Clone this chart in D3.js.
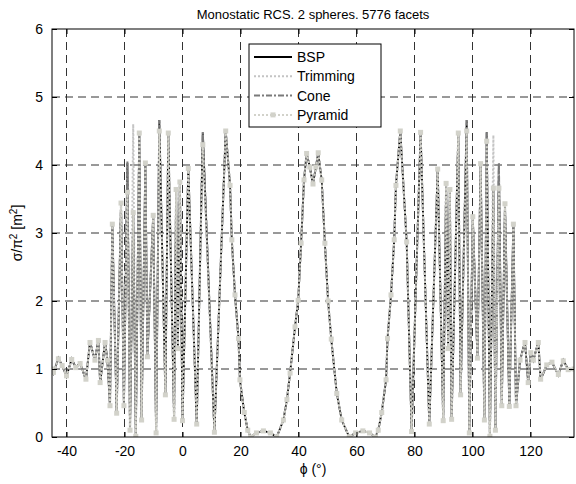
<!DOCTYPE html>
<html>
<head>
<meta charset="utf-8">
<script src="https://cdn.jsdelivr.net/npm/d3@7"></script>
<style>
  body { margin: 0; background: #fff; }
  text { font-family: "Liberation Sans", Arial, sans-serif; }
</style>
</head>
<body>
<script>
 var phi = [
   -45, -44.5, -42.8, -41.5, -40, -38.2, -36.8, -35.3, -33.3, -31.9,
   -30.2, -29, -28.4, -26.7, -25.9, -25, -24.2, -22.7, -21.2, -20.2,
   -19, -18.1, -17, -16.1, -14.9, -14.1, -12.8, -12.1, -10.1, -9.1,
   -8, -5.9, -4.9, -2.9, -2.2, -1.6, -0.9, 0, 2, 4.9,
   7, 11, 14.9, 16.4, 17, 18.1, 19.3, 19.8, 21.3, 22.5,
   23.5, 25.5, 27.9, 30.3, 32.5, 34.8, 36, 37.1, 38.8, 39.9,
   40.9, 41.9, 42.8, 43.9, 45, 46, 46.8, 48, 49.1, 50.2,
   51.3, 53.2, 54.9, 57.5, 59.7, 62.2, 64.5, 66.5, 67.5, 68.7,
   70.2, 70.7, 71.9, 73, 73.6, 75.1, 77.3, 79, 82.1, 85.1,
   88, 89.9, 90.9, 91.6, 92.2, 92.8, 95.1, 95.9, 98, 98.9,
   100.1, 101.7, 102.8, 104.1, 104.9, 106, 107.2, 107.9, 109.1, 110.1,
   111.2, 112.7, 114.1, 115, 116.4, 118.1, 119.2, 120.1, 121, 122.7,
   123.5, 125.6, 127.4, 129.6, 131.3, 133, 135];

 var bsp = [
   1.00, 0.94, 1.16, 1.05, 0.89, 1.15, 1.02, 1.09, 0.84, 1.40,
   1.13, 1.43, 0.79, 1.40, 1.13, 0.46, 3.13, 0.35, 3.44, 0.46,
   4.03, 0.10, 3.30, 0.01, 4.47, 0.25, 4.03, 1.18, 3.26, 0.06,
   4.66, 0.62, 4.47, 0.26, 3.64, 1.30, 3.75, 0.24, 3.95, 0.19,
   4.48, 0.07, 4.50, 3.70, 2.90, 2.09, 1.45, 0.84, 0.36, 0.10,
   0.00, 0.06, 0.09, 0.06, 0.00, 0.25, 0.55, 0.94, 1.62, 2.01,
   2.85, 3.78, 4.17, 3.97, 3.72, 3.97, 4.18, 3.78, 2.85, 2.00,
   1.44, 0.64, 0.25, 0.00, 0.06, 0.09, 0.06, 0.00, 0.10, 0.36,
   0.84, 1.45, 2.09, 2.90, 3.70, 4.50, 2.87, 0.08, 4.48, 0.19,
   3.94, 0.24, 3.73, 1.30, 3.64, 0.26, 4.47, 0.62, 4.66, 0.06,
   3.24, 1.16, 4.02, 0.25, 4.48, 0.01, 3.66, 0.10, 4.03, 0.46,
   3.43, 0.45, 3.13, 0.46, 1.13, 1.40, 0.79, 1.25, 1.13, 1.40,
   0.84, 1.06, 1.10, 0.91, 1.13, 0.99, 1.00];

 var trimming = [
   1.00, 0.96, 1.14, 1.05, 0.91, 1.13, 1.02, 1.07, 0.86, 1.38,
   1.13, 1.41, 0.81, 1.38, 1.13, 0.46, 3.13, 0.35, 3.44, 0.46,
   4.03, 0.10, 4.60, 0.01, 4.47, 0.25, 4.03, 1.18, 3.26, 0.06,
   4.66, 0.62, 4.47, 0.26, 3.64, 1.30, 3.75, 0.24, 3.95, 0.19,
   4.48, 0.07, 4.50, 3.70, 2.90, 2.09, 1.45, 0.84, 0.36, 0.10,
   0.00, 0.06, 0.09, 0.06, 0.00, 0.25, 0.55, 0.94, 1.62, 2.01,
   2.85, 3.78, 4.17, 3.97, 3.72, 3.97, 4.18, 3.78, 2.85, 2.00,
   1.44, 0.64, 0.25, 0.00, 0.06, 0.09, 0.06, 0.00, 0.10, 0.36,
   0.84, 1.45, 2.09, 2.90, 3.70, 4.50, 2.87, 0.08, 4.48, 0.19,
   3.94, 0.24, 3.73, 1.30, 3.64, 0.26, 4.47, 0.62, 4.66, 0.06,
   3.24, 1.16, 4.02, 0.25, 4.48, 0.01, 4.44, 0.10, 4.03, 0.46,
   3.43, 0.45, 3.13, 0.46, 1.13, 1.38, 0.81, 1.23, 1.13, 1.38,
   0.86, 1.06, 1.10, 0.93, 1.11, 0.99, 1.00];

 var cone = [
   1.00, 0.94, 1.16, 1.05, 0.89, 1.15, 1.02, 1.09, 0.84, 1.40,
   1.13, 1.43, 0.79, 1.40, 1.13, 0.46, 3.13, 0.35, 3.44, 0.46,
   4.05, 0.10, 3.30, 0.01, 4.47, 0.25, 4.03, 1.18, 3.26, 0.06,
   4.66, 0.62, 4.47, 0.26, 3.64, 1.30, 3.75, 0.24, 3.95, 0.19,
   4.48, 0.07, 4.50, 3.70, 2.90, 2.09, 1.45, 0.84, 0.36, 0.10,
   0.00, 0.06, 0.09, 0.06, 0.00, 0.25, 0.55, 0.94, 1.62, 2.01,
   2.85, 3.78, 4.17, 3.97, 3.72, 3.97, 4.18, 3.78, 2.85, 2.00,
   1.44, 0.64, 0.25, 0.00, 0.06, 0.09, 0.06, 0.00, 0.10, 0.36,
   0.84, 1.45, 2.09, 2.90, 3.70, 4.50, 2.87, 0.08, 4.48, 0.19,
   3.94, 0.24, 3.73, 1.30, 3.64, 0.26, 4.47, 0.62, 4.66, 0.06,
   3.24, 1.16, 4.02, 0.25, 4.48, 0.01, 3.66, 0.10, 4.03, 0.46,
   3.43, 0.45, 3.13, 0.46, 1.13, 1.40, 0.79, 1.25, 1.13, 1.40,
   0.84, 1.06, 1.10, 0.91, 1.13, 0.99, 1.00];

 var pyramid = [
   1.00, 0.95, 1.15, 1.05, 0.90, 1.14, 1.02, 1.08, 0.85, 1.39,
   1.13, 1.42, 0.80, 1.39, 1.13, 0.46, 3.13, 0.35, 3.44, 0.46,
   3.60, 0.10, 3.30, 0.01, 4.47, 0.25, 4.03, 1.18, 3.26, 0.06,
   4.50, 0.62, 4.47, 0.26, 3.64, 1.30, 3.75, 0.24, 3.95, 0.19,
   4.30, 0.07, 4.50, 3.70, 2.90, 2.09, 1.45, 0.84, 0.36, 0.10,
   0.00, 0.06, 0.09, 0.06, 0.00, 0.25, 0.55, 0.94, 1.62, 2.01,
   2.85, 3.78, 4.17, 3.97, 3.72, 3.97, 4.18, 3.78, 2.85, 2.00,
   1.44, 0.64, 0.25, 0.00, 0.06, 0.09, 0.06, 0.00, 0.10, 0.36,
   0.84, 1.45, 2.09, 2.90, 3.70, 4.50, 2.87, 0.08, 4.48, 0.19,
   3.94, 0.24, 3.73, 1.30, 3.64, 0.26, 4.47, 0.62, 4.50, 0.06,
   3.24, 1.16, 4.02, 0.25, 4.35, 0.01, 3.66, 0.10, 3.66, 0.46,
   3.43, 0.45, 3.13, 0.46, 1.13, 1.39, 0.80, 1.24, 1.13, 1.39,
   0.85, 1.06, 1.10, 0.92, 1.12, 0.99, 1.00];

 var x_ticks = [-40, -20, 0, 20, 40, 60, 80, 100, 120];
 var y_ticks = [0, 1, 2, 3, 4, 5, 6];
 var names = ['BSP', 'Trimming', 'Cone', 'Pyramid'];

 var width = 576, height = 484;
 // plot box in px (don't call it "top", window.top is read only)
 var m_left = 52, m_right = 574, m_top = 29, m_bottom = 437;

 var svg = d3.select('body').append('svg')
             .attr('width', width)
             .attr('height', height)
             .style('background', '#fff');

 var x = d3.scaleLinear().domain([-45, 135]).range([m_left, m_right]);
 var y = d3.scaleLinear().domain([0, 6]).range([m_bottom, m_top]);
 var plain = function(d) { return String(d); };  // hyphen minus, like matlab

 svg.append('defs').append('clipPath').attr('id', 'plotclip')
    .append('rect')
    .attr('x', m_left).attr('y', m_top - 2)
    .attr('width', m_right - m_left).attr('height', m_bottom - m_top + 2);

 // dashed grid (matlab style)
 var grid = svg.append('g');
 grid.selectAll('line.gx')
     .data(x_ticks)
     .enter().append('line')
     .attr('x1', function(d) { return x(d); })
     .attr('x2', function(d) { return x(d); })
     .attr('y1', m_top).attr('y2', m_bottom)
     .attr('stroke', '#333').attr('stroke-width', 1)
     .attr('stroke-dasharray', '8,5');
 grid.selectAll('line.gy')
     .data(y_ticks.slice(1, -1))
     .enter().append('line')
     .attr('y1', function(d) { return y(d); })
     .attr('y2', function(d) { return y(d); })
     .attr('x1', m_left).attr('x2', m_right)
     .attr('stroke', '#333').attr('stroke-width', 1)
     .attr('stroke-dasharray', '8,5');

 var styles = {
   BSP:      {color: '#000000', width: 1.8, dash: null},
   Trimming: {color: '#c4c4c4', width: 2, dash: '2,2'},
   Cone:     {color: '#7a7a7a', width: 2, dash: '6,2,2,2'},
   Pyramid:  {color: '#d2d2ca', width: 2, dash: '2,2'}
 };
 var series = {BSP: bsp, Trimming: trimming, Cone: cone, Pyramid: pyramid};

 var line = d3.line()
              .x(function(d) { return x(d[0]); })
              .y(function(d) { return y(d[1]); });

 var plot = svg.append('g').attr('clip-path', 'url(#plotclip)');

 names.forEach(function(n) {
   var pts = d3.zip(phi, series[n]);
   plot.append('path')
       .datum(pts)
       .attr('d', line)
       .attr('fill', 'none')
       .attr('stroke', styles[n].color)
       .attr('stroke-width', styles[n].width)
       .attr('stroke-dasharray', styles[n].dash);
 });

 // pyramid squares on top
 plot.selectAll('rect.mk')
     .data(d3.zip(phi, pyramid))
     .enter().append('rect')
     .attr('x', function(d) { return x(d[0]) - 2.5; })
     .attr('y', function(d) { return y(d[1]) - 2.5; })
     .attr('width', 5).attr('height', 5)
     .attr('fill', '#d2d2ca');

 // axes box + inward ticks on all four sides
 var ax = svg.append('g');
 ax.append('g').attr('transform', 'translate(0,' + m_bottom + ')')
   .call(d3.axisBottom(x).tickValues(x_ticks).tickFormat(plain).tickSizeInner(-5).tickSizeOuter(0).tickPadding(9));
 ax.append('g').attr('transform', 'translate(0,' + m_top + ')')
   .call(d3.axisTop(x).tickValues(x_ticks).tickSizeInner(-5).tickSizeOuter(0).tickFormat(''));
 ax.append('g').attr('transform', 'translate(' + m_left + ',0)')
   .call(d3.axisLeft(y).tickValues(y_ticks).tickFormat(plain).tickSizeInner(-5).tickSizeOuter(0).tickPadding(9));
 ax.append('g').attr('transform', 'translate(' + m_right + ',0)')
   .call(d3.axisRight(y).tickValues(y_ticks).tickSizeInner(-5).tickSizeOuter(0).tickFormat(''));
 ax.selectAll('.domain').remove();
 ax.selectAll('.tick line').attr('stroke', '#000');
 ax.selectAll('text')
   .attr('fill', '#000')
   .style('font-size', '14px')
   .style('font-family', '"Liberation Sans", Arial, sans-serif');

 svg.append('rect')
    .attr('x', m_left).attr('y', m_top)
    .attr('width', m_right - m_left).attr('height', m_bottom - m_top)
    .attr('fill', 'none').attr('stroke', '#000').attr('stroke-width', 1);

 // title and labels
 svg.append('text')
    .attr('x', (m_left + m_right) / 2).attr('y', 19)
    .attr('text-anchor', 'middle')
    .style('font-size', '13px')
    .text('Monostatic RCS. 2 spheres. 5776 facets');

 svg.append('text')
    .attr('x', (m_left + m_right) / 2).attr('y', 474)
    .attr('text-anchor', 'middle')
    .style('font-size', '14px')
    .text('\u03d5 (\u00b0)');

 var ylab = svg.append('text')
    .attr('transform', 'translate(22,' + (m_top + m_bottom) / 2 + ') rotate(-90)')
    .attr('text-anchor', 'middle')
    .style('font-size', '14px');
 ylab.append('tspan').text('\u03c3/\u03c0');
 ylab.append('tspan').attr('dy', -5).style('font-size', '10px').text('2');
 ylab.append('tspan').attr('dy', 5).text(' [m');
 ylab.append('tspan').attr('dy', -5).style('font-size', '10px').text('2');
 ylab.append('tspan').attr('dy', 5).text(']');

 // legend
 var lg = svg.append('g');
 lg.append('rect')
   .attr('x', 249).attr('y', 44).attr('width', 132).attr('height', 83)
   .attr('fill', '#fff').attr('stroke', '#000').attr('stroke-width', 1);
 names.forEach(function(n, i) {
   var ly = 57 + i * 19.3;
   lg.append('line')
     .attr('x1', 254).attr('x2', 292).attr('y1', ly).attr('y2', ly)
     .attr('stroke', styles[n].color)
     .attr('stroke-width', styles[n].width)
     .attr('stroke-dasharray', styles[n].dash);
   if (n == 'Pyramid') {
     lg.append('rect').attr('x', 270.5).attr('y', ly - 2.5)
       .attr('width', 5).attr('height', 5).attr('fill', styles[n].color);
   }
   lg.append('text')
     .attr('x', 297).attr('y', ly + 5)
     .style('font-size', '14px')
     .text(n);
 });
</script>
</body>
</html>
